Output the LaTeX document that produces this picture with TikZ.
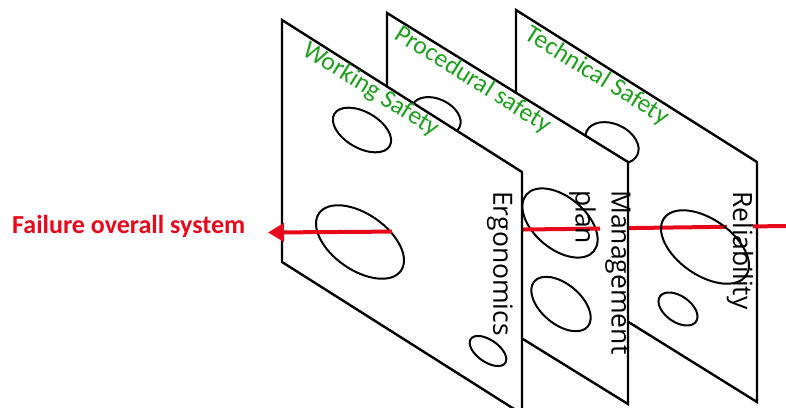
\documentclass[tikz,border=0pt]{standalone}
\usepackage{fontspec}
\setmainfont{Carlito}
\newfontfamily\factorfont{Open Sans}
\usetikzlibrary{arrows.meta}
\definecolor{layerGreen}{RGB}{30,160,30}
\definecolor{failRed}{RGB}{232,8,28}

\begin{document}
\begin{tikzpicture}[x=1pt,y=-1pt,
  plate/.style={draw=black,fill=white,line width=2.4pt,line join=miter},
  hole/.style={draw=black,line width=2pt},
  layer/.style={text=layerGreen,font=\fontsize{25.5}{26}\selectfont,inner sep=0pt,rotate=-32},
  factor/.style={font=\factorfont\fontsize{26.5}{36}\selectfont,inner sep=0pt,rotate=-90,anchor=west,align=left},
  failpath/.style={draw=failRed,line width=4pt}]
\useasboundingbox (0,0) rectangle (786,407);
\clip (0,0) rectangle (786,407);
\coordinate (in3) at (786,226);
\coordinate (out3) at (620,228.2);
\coordinate (in2) at (600,228.6);
\coordinate (out2) at (515,229.6);
\coordinate (in1) at (392,231.6);
\coordinate (tip) at (268,232.5);
\draw[plate] (516,10) -- (757,162) -- (757,402) -- (516,252) -- cycle;
\draw[failpath] (in3) -- (out3);
\node[factor,fill=white] (reliability) at (740,191) {Reliability};
\draw[hole,rotate around={-25:(612,143)}] (612,143) ellipse [x radius=28,y radius=19];
\draw[hole,rotate around={-35:(705,247)}] (705,247) ellipse [x radius=50,y radius=28];
\draw[hole,rotate around={-35:(678,309)}] (678,309) ellipse [x radius=22,y radius=13];
\draw[plate] (387,13) -- (628,162) -- (628,404) -- (387,255) -- cycle;
\draw[hole,rotate around={-25:(436,116)}] (436,116) ellipse [x radius=26,y radius=17];
\draw[hole,rotate around={-40:(560,223)}] (560,223) ellipse [x radius=44,y radius=26];
\draw[hole,rotate around={-40:(561,304)}] (561,304) ellipse [x radius=35,y radius=20];
\draw[failpath] (in2) -- (out2);
\draw[plate] (282,20) -- (522,172) -- (522,414) -- (282,262) -- cycle;
\draw[hole,rotate around={-30:(362,130)}] (362,130) ellipse [x radius=32,y radius=18];
\draw[hole,rotate around={-35:(360,242)}] (360,242) ellipse [x radius=50,y radius=28];
\draw[hole,rotate around={-35:(488,351)}] (488,351) ellipse [x radius=21,y radius=11];
\draw[failpath,-{Triangle[length=16pt,width=18pt]}] (in1) -- (tip);
\node[anchor=base west,inner sep=0pt,text=failRed,font=\bfseries\fontsize{26}{26}\selectfont] (failure) at (12,233) {Failure overall system};
\node[layer] (working) at (371,90) {Working Safety};
\node[layer] (procedural) at (473,80) {Procedural safety};
\node[layer] (technical) at (597,76) {Technical Safety};
\node[factor] (ergonomics) at (500,191) {Ergonomics};
\node[factor] (management) at (600,190) {Management\\plan};
\end{tikzpicture}
\end{document}
